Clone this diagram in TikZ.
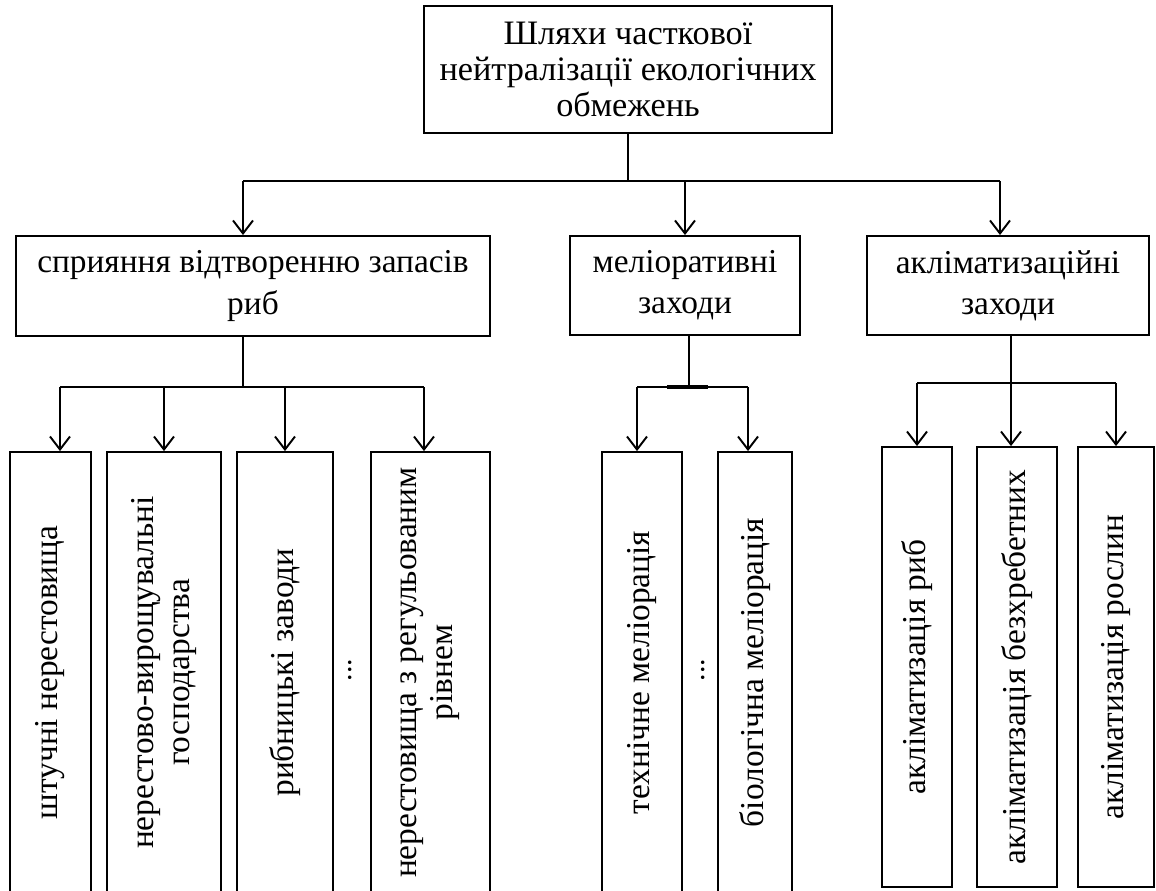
\documentclass[tikz,border=0pt]{standalone}
\usepackage{fontspec}
\setmainfont{Liberation Serif}
\usetikzlibrary{arrows.meta}
\usetikzlibrary{calc}

\tikzset{
	box/.style={draw, line width=1.1pt, align=center, inner sep=0pt,
		font=\fontsize{19}{23.5}\selectfont},
	vbox/.style={box, rotate=90, font=\fontsize{19}{20.5}\selectfont},
}

\begin{document}
\begin{tikzpicture}[x=0.02cm, y=-0.02cm, line width=1.1pt]
	\useasboundingbox (0,0) rectangle (1156,890);
	\clip (0,0) rectangle (1156,890);

	\node[box, minimum width=8.16cm, minimum height=2.54cm,
		font=\fontsize{19.5}{20.5}\selectfont] (root) at (628,69.5)
		{Шляхи часткової\\нейтралізації екологічних\\обмежень};

	\node[box, minimum width=9.48cm, minimum height=2cm] (repr) at (253,286)
		{сприяння відтворенню запасів\\риб};
	\node[box, minimum width=4.6cm, minimum height=1.98cm] (melio) at (685,285.5)
		{меліоративні\\заходи};
	\node[box, minimum width=5.64cm, minimum height=1.98cm] (aklim) at (1008,285.5)
		{акліматизаційні\\заходи};

	\node[vbox, minimum width=8.82cm, minimum height=1.62cm] (r1) at (50.5,672.5)
		{штучні нерестовища};
	\node[vbox, minimum width=8.82cm, minimum height=2.28cm] (r2) at (164,672.5)
		{нерестово-вирощувальні\\господарства};
	\node[vbox, minimum width=8.82cm, minimum height=1.92cm] (r3) at (285,672.5)
		{рибницькі заводи};
	\node[vbox, minimum width=8.82cm, minimum height=2.38cm] (r4) at (430.5,672.5)
		{нерестовища з регульованим\\рівнем};
	\node[rotate=90, font=\fontsize{17}{20}\selectfont] (dotsR) at (350,670) {...};

	\node[vbox, minimum width=8.82cm, minimum height=1.6cm] (m1) at (642,672.5)
		{технічне меліорація};
	\node[vbox, minimum width=8.82cm, minimum height=1.48cm] (m2) at (755,672.5)
		{біологічна меліорація};
	\node[rotate=90, font=\fontsize{17}{20}\selectfont] (dotsM) at (703,670) {...};

	\node[vbox, minimum width=8.8cm, minimum height=1.4cm] (a1) at (917,667)
		{акліматизація риб};
	\node[vbox, minimum width=8.8cm, minimum height=1.6cm] (a2) at (1017,667)
		{акліматизація безхребетних};
	\node[vbox, minimum width=8.8cm, minimum height=1.52cm] (a3) at (1116,667)
		{акліматизація рослин};

	\coordinate (jtop) at (628,181);
	\coordinate (jA) at (243,387);
	\coordinate (jM) at (689,387);
	\coordinate (jC) at (1011,383);

	\begin{scope}[>={Straight Barb[length=0.26cm,width=0.4cm]},
			every edge/.style={draw=black}]
		\path[draw] (root.south) -- (jtop);
		\path[draw] (jA |- jtop) -- ([xshift=-0.16cm]aklim.north |- jtop);
		\path[->] (jA |- jtop) edge (jA |- repr.north)
			(melio.north |- jtop) edge (melio.north)
			([xshift=-0.16cm]aklim.north |- jtop) edge ([xshift=-0.16cm]aklim.north);

		\path[draw] (jA |- repr.south) -- (jA);
		\path[draw] ([xshift=0.19cm]r1.east |- jA) -- ([xshift=-0.13cm]r4.east |- jA);
		\path[->] ([xshift=0.19cm]r1.east |- jA) edge ([xshift=0.19cm]r1.east)
			(r2.east |- jA) edge (r2.east)
			(r3.east |- jA) edge (r3.east)
			([xshift=-0.13cm]r4.east |- jA) edge ([xshift=-0.13cm]r4.east);

		\path[draw] (melio.south -| jM) -- (jM);
		\path[draw] ([xshift=-0.1cm]m1.east |- jM) -- ([xshift=-0.14cm]m2.east |- jM);
		\path[draw, line width=2.2pt] ($(jM)+(-22,0)$) -- ($(jM)+(19,0)$);
		\path[->] ([xshift=-0.1cm]m1.east |- jM) edge ([xshift=-0.1cm]m1.east)
			([xshift=-0.14cm]m2.east |- jM) edge ([xshift=-0.14cm]m2.east);

		\path[draw] (aklim.south -| jC) -- (jC);
		\path[draw] (a1.east |- jC) -- (a3.east |- jC);
		\path[->] (a1.east |- jC) edge (a1.east)
			(jC) edge (jC |- a2.east)
			(a3.east |- jC) edge (a3.east);
	\end{scope}
\end{tikzpicture}
\end{document}
